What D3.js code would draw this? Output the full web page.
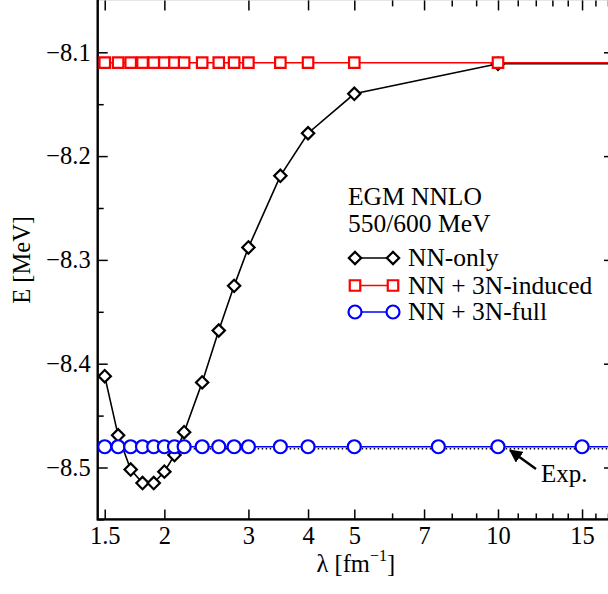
<!DOCTYPE html>
<html>
<head>
<meta charset="utf-8">
<script src="https://cdn.jsdelivr.net/npm/d3@7"></script>
<style>
  body { margin: 0; background: #fff; }
  svg { display: block; font-family: "Liberation Serif", "Times New Roman", serif; }
</style>
</head>
<body>
<svg id="chart" width="608" height="594"></svg>
<script>
// lambda grid [fm^-1] and ground-state energies [MeV]
const lambdaNN = [1.5, 1.6, 1.7, 1.8, 1.9, 2.0, 2.1, 2.2, 2.4, 2.6, 2.8, 3.0, 3.5, 4, 5, 10, 20];
const energyNN = [-8.412, -8.469, -8.502, -8.515, -8.515, -8.504, -8.488, -8.466, -8.418, -8.368, -8.325, -8.288, -8.219, -8.178, -8.140, -8.111, -8.111];

const lambdaInd = [1.5, 1.6, 1.7, 1.8, 1.9, 2.0, 2.1, 2.2, 2.4, 2.6, 2.8, 3.0, 3.5, 4, 5, 10, 20];
const energyInd = [-8.110, -8.110, -8.110, -8.110, -8.110, -8.110, -8.110, -8.110, -8.110, -8.110, -8.110, -8.110, -8.110, -8.110, -8.110, -8.110, -8.110];

const lambdaFull = [1.5, 1.6, 1.7, 1.8, 1.9, 2.0, 2.1, 2.2, 2.4, 2.6, 2.8, 3.0, 3.5, 4, 5, 7.5, 10, 15, 20];
const energyFull = [-8.480, -8.480, -8.480, -8.480, -8.480, -8.480, -8.480, -8.480, -8.480, -8.480, -8.480, -8.480, -8.480, -8.480, -8.480, -8.480, -8.480, -8.480, -8.480];

const expEnergy = -8.482;

const xMajor = [1.5, 2, 3, 4, 5, 7, 10, 15];
const xMinor = [6, 8, 9, 11, 12, 13, 14, 16, 17];
const yMajor = [-8.1, -8.2, -8.3, -8.4, -8.5];
const yMinor = [-8.15, -8.25, -8.35, -8.45, -8.55];

const pLeft = 97.7, pRight = 614, pTop = 0.4, pBottom = 519.4;

const svg = d3.select("#chart");

const x = d3.scaleLog().domain([1.45, 17.5]).range([pLeft, pRight]);
const y = d3.scaleLinear().domain([-8.55, -8.05]).range([pBottom, pTop]);

const defs = svg.append("defs");
defs.append("clipPath").attr("id", "clip")
  .append("rect").attr("x", pLeft).attr("y", pTop).attr("width", pRight - pLeft).attr("height", pBottom - pTop);

const fmt = d => d3.format("")(d).replace("-", "\u2212");

// axes (ticks inward on all four sides)
function styleAxis(g) {
  g.select(".domain").remove();
  g.selectAll(".tick line").attr("stroke", "#000").attr("stroke-width", 1.5);
  g.selectAll("text").attr("fill", "#000").attr("font-size", 24.5).attr("font-family", "Liberation Serif, serif");
}

svg.append("g").attr("transform", `translate(0,${pBottom})`)
  .call(d3.axisBottom(x).tickValues(xMajor).tickSize(-10).tickPadding(7).tickFormat(d3.format("")))
  .call(styleAxis);
svg.append("g").attr("transform", `translate(0,${pBottom})`)
  .call(d3.axisBottom(x).tickValues(xMinor).tickSize(-6).tickFormat(""))
  .call(styleAxis);
svg.append("g").attr("transform", `translate(0,${pTop})`)
  .call(d3.axisTop(x).tickValues(xMajor).tickSize(-10).tickFormat(""))
  .call(styleAxis);
svg.append("g").attr("transform", `translate(0,${pTop})`)
  .call(d3.axisTop(x).tickValues(xMinor).tickSize(-6).tickFormat(""))
  .call(styleAxis);

svg.append("g").attr("transform", `translate(${pLeft},0)`)
  .call(d3.axisLeft(y).tickValues(yMajor).tickSize(-10).tickPadding(7).tickFormat(fmt))
  .call(styleAxis);
svg.append("g").attr("transform", `translate(${pLeft},0)`)
  .call(d3.axisLeft(y).tickValues(yMinor).tickSize(-6).tickFormat(""))
  .call(styleAxis);
svg.append("g").attr("transform", `translate(${pRight},0)`)
  .call(d3.axisRight(y).tickValues(yMajor).tickSize(-10).tickFormat(""))
  .call(styleAxis);
svg.append("g").attr("transform", `translate(${pRight},0)`)
  .call(d3.axisRight(y).tickValues(yMinor).tickSize(-6).tickFormat(""))
  .call(styleAxis);

svg.append("rect")
  .attr("x", pLeft).attr("y", pTop - 1.5).attr("width", pRight - pLeft).attr("height", pBottom - pTop + 1.5)
  .attr("fill", "none").attr("stroke", "#000").attr("stroke-width", 2.4);

// axis titles
svg.append("text")
  .attr("transform", `translate(30,${(pTop + pBottom) / 2}) rotate(-90)`)
  .attr("text-anchor", "middle").attr("font-size", 24.5)
  .text("E  [MeV]");

const xt = svg.append("text")
  .attr("x", (pLeft + pRight) / 2).attr("y", 572)
  .attr("text-anchor", "middle").attr("font-size", 24.5);
xt.append("tspan").text("\u03bb [fm");
xt.append("tspan").attr("font-size", 16).attr("dy", -11).text("\u22121");
xt.append("tspan").attr("dy", 11).text("]");

const plot = svg.append("g").attr("clip-path", "url(#clip)");

// experiment
plot.append("line")
  .attr("x1", pLeft).attr("x2", pRight).attr("y1", y(expEnergy)).attr("y2", y(expEnergy))
  .attr("stroke", "#000").attr("stroke-width", 1.4).attr("stroke-dasharray", "1.5,2.5");

const line = d3.line().x(d => x(d[0])).y(d => y(d[1]));
const diamond = d3.symbol().type(d3.symbolSquare).size(76);
const square = d3.symbol().type(d3.symbolSquare).size(110);

function drawSeries(lams, vals, color, marker) {
  const pts = lams.map((l, i) => [l, vals[i]]);
  plot.append("path").datum(pts)
    .attr("d", line).attr("fill", "none").attr("stroke", color).attr("stroke-width", 1.6);
  const g = plot.append("g");
  pts.forEach(p => {
    if (marker === "circle") {
      g.append("circle").attr("cx", x(p[0])).attr("cy", y(p[1])).attr("r", 6.5)
        .attr("fill", "#fff").attr("stroke", color).attr("stroke-width", 2.2);
    } else {
      g.append("path").attr("d", marker === "diamond" ? diamond() : square())
        .attr("transform", `translate(${x(p[0])},${y(p[1])})` + (marker === "diamond" ? " rotate(45)" : ""))
        .attr("fill", "#fff").attr("stroke", color).attr("stroke-width", 2.2);
    }
  });
}

drawSeries(lambdaNN, energyNN, "#000", "diamond");
drawSeries(lambdaInd, energyInd, "#ff0000", "square");
drawSeries(lambdaFull, energyFull, "#0000ff", "circle");

// arrow to experimental value
defs.append("marker")
  .attr("id", "head").attr("viewBox", "0 0 10 10").attr("refX", 9).attr("refY", 5)
  .attr("markerWidth", 5.5).attr("markerHeight", 5.5).attr("orient", "auto")
  .append("path").attr("d", "M0,0 L10,5 L0,10 Z").attr("fill", "#000");
svg.append("line")
  .attr("x1", 536).attr("y1", 469).attr("x2", x(10.6)).attr("y2", y(expEnergy) + 1.5)
  .attr("stroke", "#000").attr("stroke-width", 2.4).attr("marker-end", "url(#head)");
svg.append("text").attr("x", 541).attr("y", 482).attr("font-size", 25).text("Exp.");

// legend
const leg = svg.append("g").attr("font-size", 25.5);
leg.append("text").attr("x", 348).attr("y", 205).text("EGM NNLO");
leg.append("text").attr("x", 348).attr("y", 231.5).text("550/600 MeV");
const legRows = [
  { label: "NN-only", color: "#000", marker: "diamond", y: 258 },
  { label: "NN + 3N-induced", color: "#ff0000", marker: "square", y: 285.5 },
  { label: "NN + 3N-full", color: "#0000ff", marker: "circle", y: 312 }
];
legRows.forEach(r => {
  leg.append("line").attr("x1", 355).attr("x2", 393).attr("y1", r.y).attr("y2", r.y)
    .attr("stroke", r.color).attr("stroke-width", 1.6);
  [355, 393].forEach(cx => {
    if (r.marker === "circle") {
      leg.append("circle").attr("cx", cx).attr("cy", r.y).attr("r", 6.5)
        .attr("fill", "#fff").attr("stroke", r.color).attr("stroke-width", 2.2);
    } else {
      leg.append("path").attr("d", r.marker === "diamond" ? diamond() : square())
        .attr("transform", `translate(${cx},${r.y})` + (r.marker === "diamond" ? " rotate(45)" : ""))
        .attr("fill", "#fff").attr("stroke", r.color).attr("stroke-width", 2.2);
    }
  });
  leg.append("text").attr("x", 408).attr("y", r.y + 8).text(r.label);
});
</script>
</body>
</html>
